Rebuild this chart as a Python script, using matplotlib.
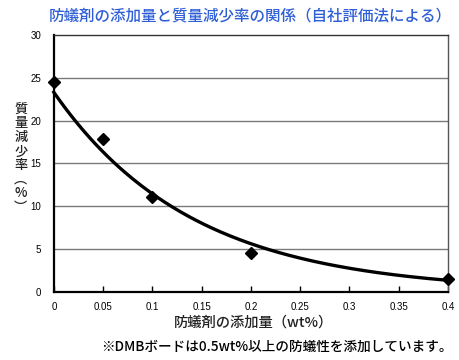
import numpy as np
import matplotlib
matplotlib.use("Agg")
import matplotlib.pyplot as plt

plt.rcParams['font.family'] = ['Noto Sans CJK JP', 'DejaVu Sans']

x_vals = [0, 0.05, 0.1, 0.2, 0.4]
y_vals = [24.5, 17.8, 11.1, 4.6, 1.5]
x_ticks = [0, 0.05, 0.1, 0.15, 0.2, 0.25, 0.3, 0.35, 0.4]
x_tick_labels = ['0', '0.05', '0.1', '0.15', '0.2', '0.25', '0.3', '0.35', '0.4']
y_ticks = [0, 5, 10, 15, 20, 25, 30]
title = '防蟻剤の添加量と質量減少率の関係（自社評価法による）'
xlabel = '防蟻剤の添加量（wt%）'
ylabel_chars = ['質', '量', '減', '少', '率', '︵', '%', '︶']
note = '※DMBボードは0.5wt%以上の防蟻性を添加しています。'

# exponential trendline fitted to the data
b, ln_a = np.polyfit(x_vals, np.log(y_vals), 1)
xf = np.linspace(0, 0.4, 200)
yf = np.exp(ln_a) * np.exp(b * xf)

fig = plt.figure(figsize=(4.6, 3.6), dpi=100)
ax = fig.add_axes([0.117, 0.189, 0.857, 0.714])

for yv in y_ticks[1:-1]:
    ax.axhline(yv, color='#7a7a7a', lw=1.0, zorder=1)

ax.plot(xf, yf, color='black', lw=2.4, zorder=3, clip_on=False)
ax.plot(x_vals, y_vals, linestyle='none', marker='D', markersize=6.5,
        color='black', zorder=4, clip_on=False)

ax.set_xlim(0, 0.4)
ax.set_ylim(0, 30)
ax.set_xticks(x_ticks)
ax.set_xticklabels(x_tick_labels, fontsize=7, family=['Liberation Sans'])
ax.set_yticks(y_ticks)
ax.set_yticklabels([str(v) for v in y_ticks], fontsize=7, family=['Liberation Sans'])
ax.tick_params(axis='x', direction='in', length=4, width=1, pad=7)
ax.tick_params(axis='y', length=0, pad=9)

ax.spines['left'].set_linewidth(1.6)
ax.spines['bottom'].set_linewidth(1.6)
ax.spines['top'].set_linewidth(1.0)
ax.spines['top'].set_color('#333333')
ax.spines['right'].set_linewidth(1.0)
ax.spines['right'].set_color('#555555')

fig.text(0.543, 0.955, title, ha='center', va='center', fontsize=11.2,
         color='#2f5fd6', fontweight='medium')
fig.text(0.552, 0.105, xlabel, ha='center', va='center', fontsize=10.3,
         color='#222222', fontweight='medium')
fig.text(0.983, 0.038, note, ha='right', va='center', fontsize=9.8,
         color='black', fontweight='medium')
fig.text(0.045, 0.56, '\n'.join(ylabel_chars), ha='center', va='center',
         fontsize=9.5, color='#222222', linespacing=1.0, fontweight='medium')

fig.savefig('out.png', dpi=100)
